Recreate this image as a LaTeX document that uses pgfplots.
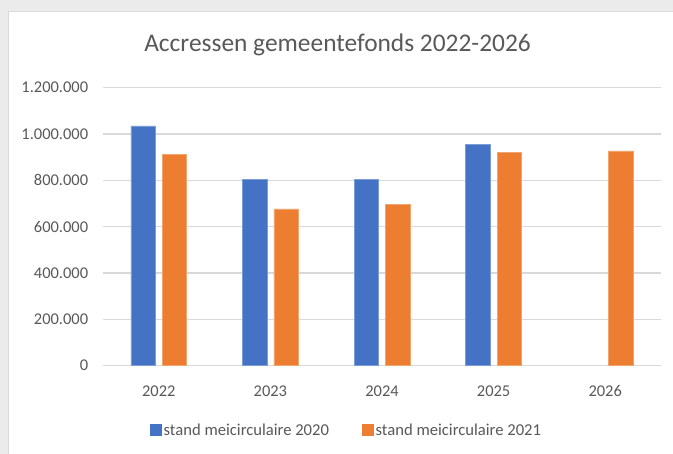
\documentclass[border=0pt]{standalone}
\usepackage{fontspec}
\setmainfont{Carlito}
\usepackage{pgfplots}
\pgfplotsset{compat=1.18}
\definecolor{xblue}{HTML}{4472C4}
\definecolor{xorange}{HTML}{ED7D31}
\definecolor{xgrid}{HTML}{D9D9D9}
\definecolor{xtext}{HTML}{595959}
\definecolor{xframe}{HTML}{EBEBEB}
\begin{document}
\begin{tikzpicture}[x=1bp,y=1bp]
\useasboundingbox (0,0) rectangle (673,454);
\fill[xframe] (0,0) rectangle (673,454);
\fill[white] (8.5,0) rectangle (673,442.5);
\draw[xgrid, line width=1bp] (8.5,0) -- (8.5,442.5) -- (673,442.5);
\node[font=\fontsize{25.5}{30}\selectfont, text=xtext, anchor=base, inner sep=0] at (337.5,402) {Accressen gemeentefonds 2022-2026};
\begin{axis}[
  at={(103bp,88.3bp)}, anchor=south west,
  scale only axis, width=558bp, height=278bp,
  xmin=-0.5, xmax=4.5, ymin=0, ymax=1200000,
  ybar=7bp, bar width=24.4bp,
  xtick={0,1,2,3,4}, xticklabels={2022,2023,2024,2025,2026},
  ytick={0,200000,400000,600000,800000,1000000,1200000},
  scaled y ticks=false,
  /pgf/number format/fixed,
  /pgf/number format/precision=0,
  /pgf/number format/1000 sep={.},
  /pgf/number format/assume math mode=true,
  ymajorgrids, major grid style={xgrid, line width=1.3bp},
  axis line style={draw=none}, tick style={draw=none},
  ticklabel style={font=\fontsize{16.5}{20}\selectfont, text=xtext, inner sep=0pt},
  xticklabel style={anchor=base, yshift=-26.3bp},
  yticklabel style={anchor=east, xshift=-14.7bp},
  legend style={at={(0.4365,-0.232)}, anchor=center, draw=none, fill=none,
    legend columns=2, font=\fontsize{16.7}{20}\selectfont, text=xtext,
    /tikz/every even column/.append style={column sep=31bp}},
  legend cell align=left,
]
\addplot[fill=xblue, draw=xblue!70!white, line width=0.6bp,
  legend image code/.code={\fill[xblue] (-1bp,-5bp) rectangle (10bp,6bp);}]
  coordinates {(0,1035000) (1,805000) (2,805000) (3,955000)};
\addlegendentry{stand meicirculaire 2020}
\addplot[fill=xorange, draw=xorange!70!white, line width=0.6bp,
  legend image code/.code={\fill[xorange] (-1bp,-5bp) rectangle (10bp,6bp);}]
  coordinates {(0,913000) (1,677000) (2,697000) (3,920000) (4,927000)};
\addlegendentry{stand meicirculaire 2021}
\end{axis}
\end{tikzpicture}
\end{document}
